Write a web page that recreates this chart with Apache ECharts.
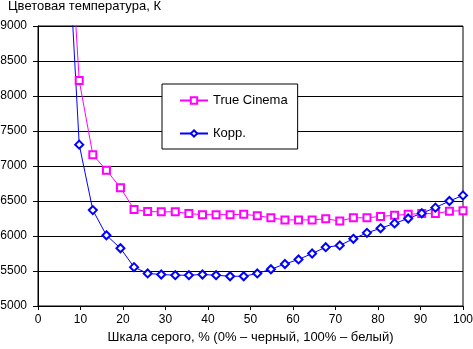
<!DOCTYPE html>
<html>
<head>
<meta charset="utf-8">
<script src="https://cdn.jsdelivr.net/npm/echarts@6/dist/echarts.min.js"></script>
<style>
  html, body { margin: 0; padding: 0; background: #fff; }
  #chart { width: 473px; height: 349px; }
</style>
</head>
<body>
<div id="chart"></div>
<script>
// Grey scale level, %
const grayLevels = [6.5, 9.7, 12.9, 16.1, 19.4, 22.6, 25.8, 29.0, 32.3, 35.5, 38.7, 41.9, 45.2, 48.4, 51.6, 54.8, 58.1, 61.3, 64.5, 67.7, 71.0, 74.2, 77.4, 80.6, 83.9, 87.1, 90.3, 93.5, 96.8, 100];
// Colour temperature, K
const trueCinema = [11400, 8220, 7160, 6940, 6690, 6380, 6350, 6345, 6345, 6320, 6305, 6305, 6305, 6310, 6290, 6260, 6230, 6230, 6230, 6245, 6215, 6260, 6260, 6280, 6295, 6310, 6320, 6320, 6355, 6360];
const korr = [10900, 7305, 6370, 6010, 5825, 5555, 5465, 5450, 5440, 5440, 5450, 5440, 5425, 5425, 5465, 5525, 5600, 5665, 5750, 5840, 5865, 5960, 6045, 6110, 6180, 6250, 6325, 6405, 6500, 6580];
const seriesNames = ['True Cinema', 'Корр.'];
const yTitle = 'Цветовая температура, К';
const xTitle = 'Шкала серого, % (0% – черный, 100% – белый)';

const font = '"Liberation Sans", Arial, sans-serif';
const pair = (xs, ys) => xs.map((x, i) => [x, ys[i]]);

const chart = echarts.init(document.getElementById('chart'), null, { renderer: 'canvas' });
chart.setOption({
  animation: false,
  backgroundColor: '#fff',
  textStyle: { fontFamily: font, color: '#000' },
  title: {
    text: yTitle,
    left: 8, top: 0, padding: 0,
    textStyle: { fontFamily: font, fontSize: 13, fontWeight: 'normal', color: '#000' }
  },
  grid: {
    left: 38, right: 10, top: 26, bottom: 43,
    containLabel: false,
    outerBoundsMode: 'none',
    show: true, borderColor: '#000', borderWidth: 1, backgroundColor: 'transparent'
  },
  legend: {
    orient: 'vertical',
    left: 162, top: 84,
    padding: [10, 10, 9, 17],
    itemGap: 20,
    itemWidth: 28, itemHeight: 8,
    backgroundColor: '#fff',
    borderColor: '#000', borderWidth: 1, borderRadius: 0,
    textStyle: { fontFamily: font, fontSize: 13, color: '#000' },
    data: seriesNames
  },
  xAxis: {
    type: 'value', min: 0, max: 100, interval: 10,
    name: xTitle, nameLocation: 'middle', nameGap: 22,
    nameTextStyle: { fontFamily: font, fontSize: 13, color: '#000' },
    axisLine: { show: true, lineStyle: { color: '#000', width: 1 } },
    axisTick: { show: true, length: 4, lineStyle: { color: '#000' } },
    axisLabel: { fontFamily: font, fontSize: 12, color: '#000', margin: 8 },
    splitLine: { show: false }
  },
  yAxis: {
    type: 'value', min: 5000, max: 9000, interval: 500,
    axisLine: { show: true, lineStyle: { color: '#000', width: 1 } },
    axisTick: { show: true, length: 5, lineStyle: { color: '#000' } },
    axisLabel: { fontFamily: font, fontSize: 12, color: '#000', margin: 11, formatter: v => String(v) },
    splitLine: { show: true, lineStyle: { color: '#000', width: 1 } }
  },
  series: [
    {
      name: seriesNames[0], type: 'line', clip: true,
      data: pair(grayLevels, trueCinema),
      symbol: 'emptyRect', symbolSize: 7,
      color: '#ff00ff',
      lineStyle: { color: '#ff00ff', width: 1 },
      itemStyle: { color: '#ff00ff', borderColor: '#ff00ff', borderWidth: 1 }
    },
    {
      name: seriesNames[1], type: 'line', clip: true,
      data: pair(grayLevels, korr),
      symbol: 'emptyDiamond', symbolSize: 8,
      color: '#0000ff',
      lineStyle: { color: '#0000ff', width: 1 },
      itemStyle: { color: '#0000ff', borderColor: '#0000ff', borderWidth: 1 }
    }
  ]
});
</script>
</body>
</html>
